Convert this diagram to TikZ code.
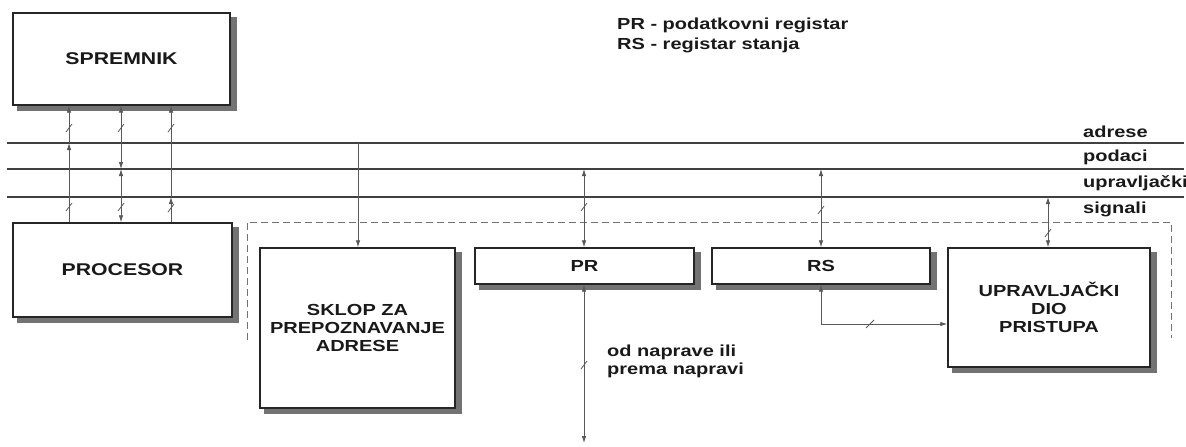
\documentclass[tikz,border=0pt]{standalone}
\usepackage{fontspec}
\setmainfont[FakeStretch=1.25]{Liberation Sans}
\usetikzlibrary{arrows.meta,calc}
\begin{document}
\begin{tikzpicture}[x=1pt,y=-1pt,
  box/.style={draw=black!85, line width=1.4pt, fill=white, inner sep=0pt, align=center,
    text=black!90, font=\fontsize{16}{18}\selectfont\bfseries},
  shadowc/.style={fill=black!55},
  bus/.style={draw=black!75, line width=1.4pt},
  conn/.style={draw=black!65, line width=0.8pt},
  tip/.style={-{Latex[length=7pt,width=4.5pt]}},
  dtip/.style={{Latex[length=7pt,width=4.5pt]}-{Latex[length=7pt,width=4.5pt]}},
  slashst/.style={draw=black!65, line width=0.8pt},
  frame/.style={draw=black!55, line width=0.9pt, dash pattern=on 7pt off 4pt},
  lbl/.style={text=black!90, inner sep=0pt, font=\fontsize{16}{18}\selectfont\bfseries}]
\useasboundingbox (0,0) rectangle (1186,447);

% boxes
\node[box, minimum width=217pt, minimum height=92pt, font=\fontsize{17}{19}\selectfont\bfseries] (spremnik) at (121.5,59) {SPREMNIK};
\node[box, minimum width=219pt, minimum height=94pt, font=\fontsize{17}{19}\selectfont\bfseries] (procesor) at (122.5,270) {PROCESOR};
\node[box, minimum width=195pt, minimum height=160pt] (sklop) at (357.5,328) {SKLOP ZA\\PREPOZNAVANJE\\ADRESE};
\node[box, minimum width=219pt, minimum height=36pt] (pr) at (584.5,266) {PR};
\node[box, minimum width=218pt, minimum height=36pt] (rs) at (821,266) {RS};
\node[box, minimum width=202pt, minimum height=119pt] (upr) at (1049,307.5) {UPRAVLJAČKI\\DIO\\PRISTUPA};

% shadows (right and bottom strips)
\foreach \n in {spremnik,procesor,sklop,pr,rs,upr} {
  \fill[shadowc] ([shift={(0,5)}]\n.north east) rectangle ([shift={(6,5)}]\n.south east);
  \fill[shadowc] ([shift={(5,0)}]\n.south west) rectangle ([shift={(6,5)}]\n.south east);
}

% dashed interface frame
\draw[frame] (247,340) -- (247,222) -- (1171,222) -- (1171,338);

% bus lines
\coordinate (adrL) at (7,143);  \coordinate (adrR) at (1184,143);
\coordinate (podL) at (7,169);  \coordinate (podR) at (1184,169);
\coordinate (uprL) at (7,197);  \coordinate (uprR) at (1184,197);
\draw[bus] (adrL) -- (adrR);
\draw[bus] (podL) -- (podR);
\draw[bus] (uprL) -- (uprR);

% bus labels
\node[lbl, anchor=west] (ladr) at (1083,132) {adrese};
\node[lbl, anchor=west] (lpod) at (1083,157) {podaci};
\node[lbl, anchor=west] (lupr) at (1083,183) {upravljački};
\node[lbl, anchor=west] (lsig) at (1083,209) {signali};

% legend
\node[lbl, anchor=west, align=left, font=\fontsize{16}{20}\selectfont\bfseries] (legend) at (617,35) {PR - podatkovni registar\\RS - registar stanja};

% junctions
\coordinate (b1) at (69,143);
\coordinate (b2) at (121,169);
\coordinate (b3) at (171,197);
\coordinate (b4) at (358,143);
\coordinate (b5) at (584,169);
\coordinate (b6) at (821,169);
\coordinate (b7) at (1048,197);
\coordinate (dev) at (584,443);
\coordinate (rsturn) at (821,324);

% processor <-> memory connectors
\draw[conn,tip] (procesor.north -| b1) -- (b1);
\draw[conn,tip] (b1) -- (spremnik.south -| b1);
\draw[conn,dtip] (b2) -- (spremnik.south -| b2);
\draw[conn,dtip] (b2) -- (procesor.north -| b2);
\draw[conn,tip] (procesor.north -| b3) -- (b3);
\draw[conn,tip] (b3) -- (spremnik.south -| b3);

% interface connectors
\draw[conn,tip] (b4) -- (b4 |- sklop.north);
\draw[conn,dtip] (b5) -- (b5 |- pr.north);
\draw[conn,dtip] (pr.south -| dev) -- (dev);
\draw[conn,dtip] (b6) -- (b6 |- rs.north);
\draw[conn,dtip] (rs.south -| rsturn) -- (rsturn) -- (rsturn -| upr.west);
\draw[conn,dtip] (b7) -- (b7 |- upr.north);

% slash marks
\foreach \p in {(69,128),(69,207),(121,128),(121,207),(171,128),(171,208),(584,207),(584,365),(821,210),(1048,233)}
  \draw[slashst] \p +(-3,4) -- +(3,-4);
\draw[slashst] (870,324) +(-4,4) -- +(4,-4);

% device text
\node[lbl, anchor=west, align=left] (devtxt) at (607,361) {od naprave ili\\prema napravi};
\end{tikzpicture}
\end{document}
